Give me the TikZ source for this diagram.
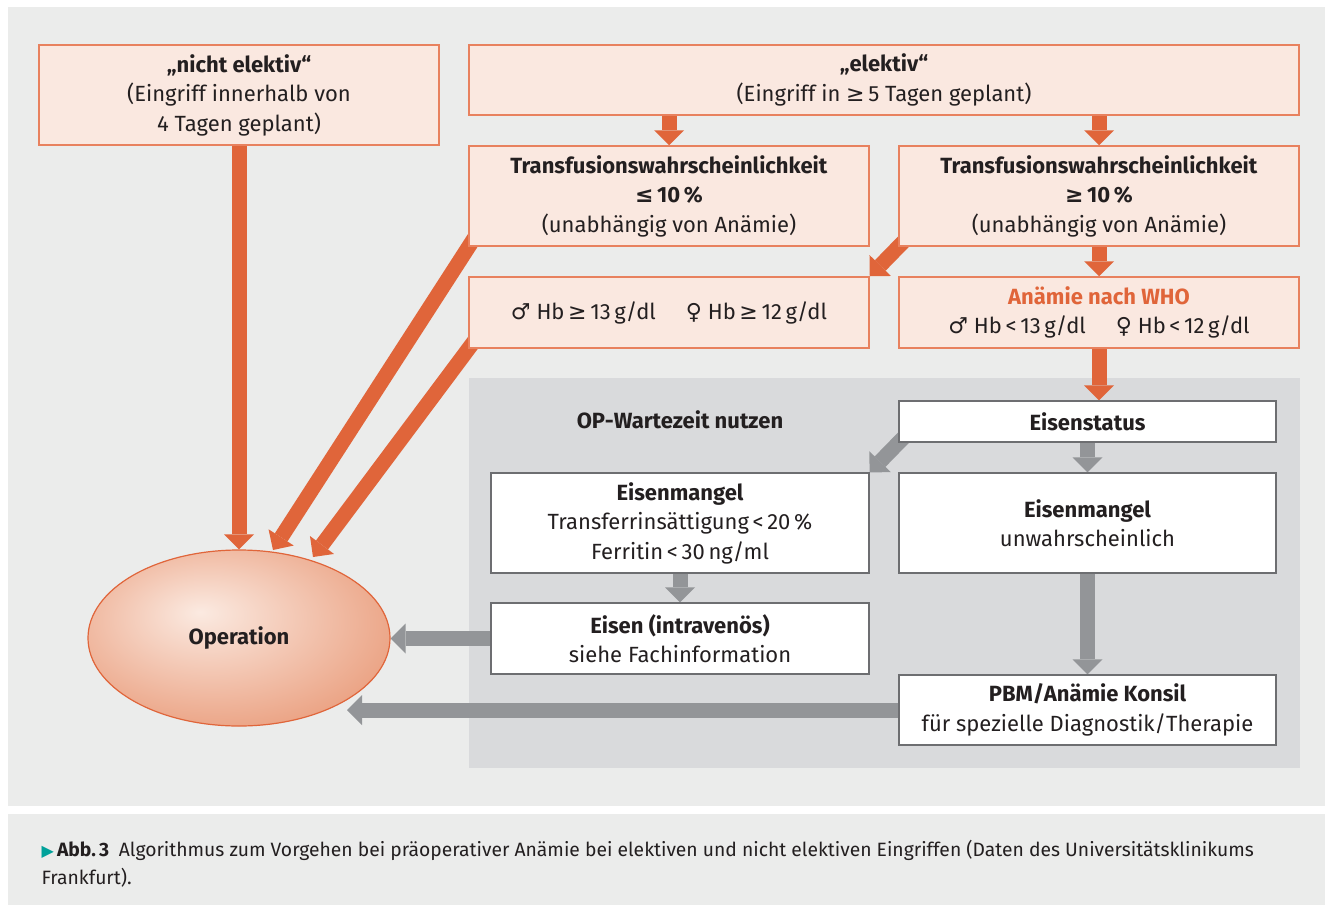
\documentclass[tikz,border=0pt]{standalone}
\usepackage{fontspec}
\setmainfont{Fira Sans}
\newfontfamily\symfont{DejaVu Sans}
\newfontfamily\capfont{Fira Sans}
\usetikzlibrary{arrows.meta,shapes.geometric,calc}
\definecolor{bg}{HTML}{EBECEB}
\definecolor{panel}{HTML}{D9DADC}
\definecolor{ofill}{HTML}{FAE8E0}
\definecolor{oborder}{HTML}{E8815E}
\definecolor{oarrow}{HTML}{E0653A}
\definecolor{garrow}{HTML}{939598}
\definecolor{gborder}{HTML}{6D6E71}
\definecolor{txt}{HTML}{231F20}
\definecolor{capteal}{HTML}{00A19A}
\definecolor{opA}{HTML}{FBEAE1}
\definecolor{opC}{HTML}{EA9F7F}
\pgfdeclareradialshading{opshade}{\pgfpoint{-6.5bp}{7.4bp}}{color(0bp)=(opA); color(32bp)=(opC); color(60bp)=(opC)}
\pgfdeclarelayer{bgl}
\pgfdeclarelayer{arr}
\pgfsetlayers{bgl,arr,main}
\newcommand\mainsz{\fontsize{22}{29.5}\selectfont}
\newcommand\sy[1]{{\symfont #1}}
\begin{document}
\begin{tikzpicture}[x=1pt,y=-1pt,
  every node/.style={text=txt, font=\mainsz},
  obox/.style={rectangle, draw=oborder, fill=ofill, line width=1.5pt, align=center, inner sep=0pt},
  wbox/.style={rectangle, draw=gborder, fill=white, line width=1.2pt, align=center, inner sep=0pt},
  oarr/.style={draw=oarrow, line width=15pt, -{Triangle[length=15pt,width=30pt,line width=0pt]}},
  garr/.style={draw=garrow, line width=15pt, -{Triangle[length=15pt,width=30pt,line width=0pt]}}]
\useasboundingbox (0,0) rectangle (1325,905);
\begin{pgfonlayer}{bgl}
\fill[bg] (8,7) rectangle (1325,806);
\fill[bg] (8,814) rectangle (1325,905);
\fill[panel] (469,378) rectangle (1300,768);
\end{pgfonlayer}
% nodes
\node[obox, minimum width=400pt, minimum height=100pt] (ne) at (239,95)
  {\textbf{„nicht elektiv“}\\(Eingriff innerhalb von\\4 Tagen geplant)};
\node[obox, minimum width=830pt, minimum height=70pt] (el) at (884,80)
  {\textbf{„elektiv“}\\(Eingriff in \sy{≥}\,5 Tagen geplant)};
\node[obox, minimum width=400pt, minimum height=100pt] (t1) at (669,196)
  {\textbf{Transfusionswahrscheinlichkeit}\\\textbf{\sy{≤}\,10\,\%}\\(unabhängig von Anämie)};
\node[obox, minimum width=400pt, minimum height=100pt] (t2) at (1099,196)
  {\textbf{Transfusionswahrscheinlichkeit}\\\textbf{\sy{≥}\,10\,\%}\\(unabhängig von Anämie)};
\node[obox, minimum width=400pt, minimum height=71pt] (hb1) at (669,312.5)
  {\sy{♂} Hb\,\sy{≥}\,13\,g/dl\hspace{30pt}\sy{♀} Hb\,\sy{≥}\,12\,g/dl};
\node[obox, minimum width=400pt, minimum height=71pt] (an) at (1099,312.5)
  {\textcolor{oarrow}{\textbf{Anämie nach WHO}}\\\sy{♂} Hb\,<\,13\,g/dl\hspace{30pt}\sy{♀} Hb\,<\,12\,g/dl};
\node[font=\mainsz\bfseries] (wz) at (680,420) {OP-Wartezeit nutzen};
\node[wbox, minimum width=377pt, minimum height=41pt] (es) at (1087.5,421.5)
  {\textbf{Eisenstatus}};
\node[wbox, minimum width=378pt, minimum height=100pt] (em) at (680,523)
  {\textbf{Eisenmangel}\\Transferrinsättigung\,<\,20\,\%\\Ferritin\,<\,30\,ng/ml};
\node[wbox, minimum width=377pt, minimum height=100pt] (eu) at (1087.5,523)
  {\textbf{Eisenmangel}\\unwahrscheinlich};
\node[wbox, minimum width=378pt, minimum height=71pt] (iv) at (680,638.5)
  {\textbf{Eisen (intravenös)}\\siehe Fachinformation};
\node[wbox, minimum width=377pt, minimum height=70pt] (pbm) at (1087.5,710)
  {\textbf{PBM/Anämie Konsil}\\für spezielle Diagnostik/Therapie};
\node[ellipse, draw=oarrow, line width=1.2pt, shading=opshade, minimum width=302pt, minimum height=176pt, inner sep=0pt] (op) at (239,638)
  {\textbf{Operation}};
\coordinate (pbmend) at ($(op.center)+(108,72)$);
\node[anchor=base west, align=left, font=\capfont\fontsize{19.3}{28}\selectfont] (cap) at (38,884)
  {{\symfont\fontsize{16}{16}\selectfont\textcolor{capteal}{▶}}\,\textbf{Abb.\,3}\enspace Algorithmus zum Vorgehen bei präoperativer Anämie bei elektiven und nicht elektiven Eingriffen (Daten des Universitätsklinikums\\Frankfurt).};
% arrows
\begin{pgfonlayer}{arr}
\draw[oarr] (ne.south) -- (op.north);
\draw[oarr] (el.south -| t1.north) -- (t1.north);
\draw[oarr] (el.south -| t2.north) -- (t2.north);
\draw[oarr] (t2.south) -- (an.north);
\draw[oarr] (an.south) -- (an.south |- es.north);
\draw[oarr] ($(t2.south west)+(10,-10)$) -- (hb1.north east);
\draw[oarr] ($(t1.south west)+(14,-21)$) -- ($(op.center)+(34,-88)$);
\draw[oarr] ($(hb1.south west)+(10,-13)$) -- ($(op.center)+(74,-81)$);
\draw[garr] ($(es.south west)+(10,-10)$) -- (em.north east);
\draw[garr] (es.south) -- (es.south |- eu.north);
\draw[garr] (em.south) -- (iv.north);
\draw[garr] (eu.south) -- (pbm.north);
\draw[garr] (iv.west) -- (iv.west -| op.east);
\draw[garr] (pbm.west) -- (pbm.west -| pbmend);
\end{pgfonlayer}
\end{tikzpicture}
\end{document}
